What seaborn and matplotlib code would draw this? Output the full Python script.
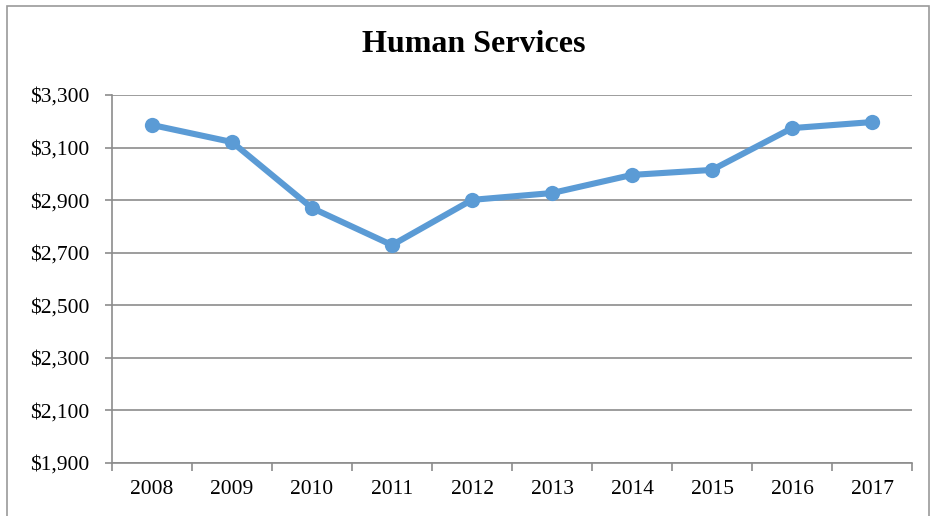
import numpy as np
import pandas as pd
import matplotlib
matplotlib.use("Agg")
import matplotlib.pyplot as plt
import seaborn as sns
from matplotlib.ticker import FixedLocator, FuncFormatter
from matplotlib.patches import Rectangle

# Data
years = ["2008", "2009", "2010", "2011", "2012", "2013", "2014", "2015", "2016", "2017"]
spending = [3186, 3121, 2870, 2729, 2901, 2927, 2996, 3015, 3174, 3197]
y_ticks = [1900, 2100, 2300, 2500, 2700, 2900, 3100, 3300]

df = pd.DataFrame({"pos": np.arange(len(years)), "value": spending})

sns.set_style("white")
plt.rcParams['font.family'] = ['Liberation Serif', 'DejaVu Serif']
plt.rcParams['text.color'] = 'black'
plt.rcParams['xtick.color'] = 'black'
plt.rcParams['ytick.color'] = 'black'

fig = plt.figure(figsize=(9.32, 5.16), dpi=100)
ax = fig.add_axes([112/932, 1 - 463/516, 800/932, 368/516])

# outer chart border (bottom edge cut off like the reference)
fig.patches.append(Rectangle((7/932, -0.05), 922/932, 1.05 - 6/516, transform=fig.transFigure,
                             fill=False, edgecolor="#9a9a9a", linewidth=1.2))

sns.lineplot(data=df, x="pos", y="value", ax=ax, color="#5B9BD5", linewidth=4.4,
             marker="o", markersize=11, markeredgewidth=0)

ax.set_xlim(-0.5, len(years) - 0.5)
ax.set_ylim(1900, 3300)
ax.set_yticks(y_ticks)
ax.yaxis.set_major_formatter(FuncFormatter(lambda v, p: "${:,.0f}".format(v)))
ax.set_xticks(df["pos"])
ax.set_xticklabels(years)
ax.xaxis.set_minor_locator(FixedLocator(np.arange(-0.5, len(years), 1.0)))

ax.grid(axis="y", color="#8c8c8c", linewidth=1.2)
ax.set_axisbelow(True)
for s in ["top", "right"]:
    ax.spines[s].set_visible(False)
for s in ["left", "bottom"]:
    ax.spines[s].set_color("#8c8c8c")
    ax.spines[s].set_linewidth(1.2)

ax.tick_params(axis="y", which="major", left=True, length=5, width=1.2, color="#8c8c8c",
               labelsize=15.5, pad=11, labelcolor="black")
ax.tick_params(axis="x", which="major", bottom=False, labelsize=15.5, pad=9, labelcolor="black")
ax.tick_params(axis="x", which="minor", bottom=True, length=6, width=1.2, color="#8c8c8c")
ax.set_xlabel("")
ax.set_ylabel("")

fig.text(474/932, 1 - 45/516, "Human Services", ha="center", va="center",
         fontsize=23, fontweight="bold", color="black")

fig.savefig("out.png", dpi=100)
